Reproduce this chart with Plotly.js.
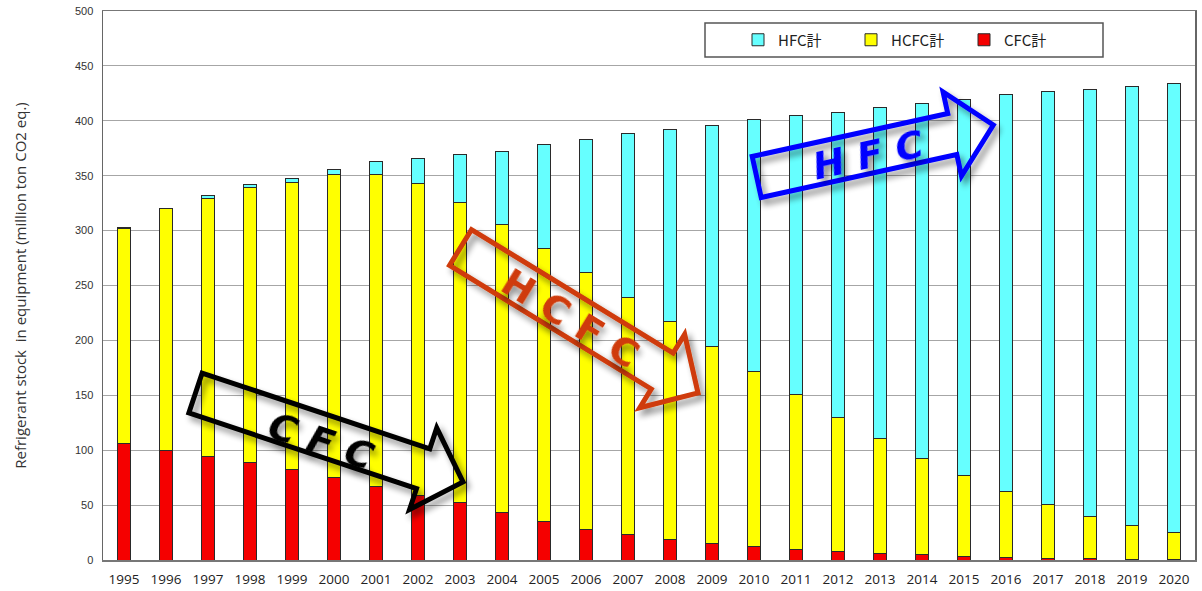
<!DOCTYPE html>
<html>
<head>
<meta charset="utf-8">
<script src="https://cdn.plot.ly/plotly-3.0.1.min.js"></script>
<style>
  html, body { margin: 0; padding: 0; background: #fff; }
  #chart { width: 1202px; height: 591px; }
</style>
</head>
<body>
<div id="chart"></div>
<script>
// Refrigerant stock held in equipment, million t CO2 eq., by refrigerant family
const years = ['1995','1996','1997','1998','1999','2000','2001','2002','2003','2004','2005','2006','2007',
               '2008','2009','2010','2011','2012','2013','2014','2015','2016','2017','2018','2019','2020'];
const cfcTotal  = [106, 100, 94, 89, 82, 75, 67, 59, 52, 43.5, 35, 28, 23, 19, 15, 12, 10, 8, 6, 5, 3.5, 2.7, 1.5, 1.2, 0.8, 0.5];
const hcfcTotal = [196, 220, 235.5, 250, 262, 276, 284.5, 284, 274, 262, 249, 234, 216, 198, 179, 160, 140.5, 122, 105, 87.5, 73.5, 60, 49, 38, 30.5, 24.5];
const hfcTotal  = [1, 0.3, 2.5, 2.8, 3.7, 5, 11.5, 23, 43, 66.5, 94, 121, 149.5, 175.5, 202, 229, 254.5, 278, 301, 323, 342, 361, 376, 389, 400, 409];
const seriesNames = ['CFC計', 'HCFC計', 'HFC計'];

const W = 1202, H = 591;
const M = { l: 103, r: 7, t: 11, b: 31 };
const PW = W - M.l - M.r, PH = H - M.t - M.b;
const px = X => (X - M.l) / PW;
const py = Y => (H - M.b - Y) / PH;

// Trend arrows drawn over the bars (screen pixels: tail centre, tip)
const arrows = [
  { tail: [195.5, 393], tip: [463, 482], color: '#000000', label: 'C\u00a0F\u00a0C', at: [321, 441], italic: true },
  { tail: [460.5, 247.5], tip: [698, 393], color: '#cf3a08', label: 'H\u00a0C\u00a0F\u00a0C', at: [570, 318], italic: false },
  { tail: [756.7, 177], tip: [993.3, 125], color: '#0000ff', label: 'H\u00a0F\u00a0C', at: [868, 155], italic: true }
];
const BODY = 42, HEAD_W = 86, HEAD_L = 42;

function arrowPath(a) {
  const [sx, sy] = a.tail, [tx, ty] = a.tip;
  const len = Math.hypot(tx - sx, ty - sy);
  const dx = (tx - sx) / len, dy = (ty - sy) / len;
  const nx = -dy, ny = dx;
  const bx = tx - dx * HEAD_L, by = ty - dy * HEAD_L;
  const pts = [
    [sx + nx * BODY / 2, sy + ny * BODY / 2],
    [bx + nx * BODY / 2, by + ny * BODY / 2],
    [bx + nx * HEAD_W / 2, by + ny * HEAD_W / 2],
    [tx, ty],
    [bx - nx * HEAD_W / 2, by - ny * HEAD_W / 2],
    [bx - nx * BODY / 2, by - ny * BODY / 2],
    [sx - nx * BODY / 2, sy - ny * BODY / 2]
  ];
  return 'M' + pts.map(p => px(p[0]).toFixed(5) + ',' + py(p[1]).toFixed(5)).join('L') + 'Z';
}
function arrowAngle(a) {
  return Math.atan2(a.tip[1] - a.tail[1], a.tip[0] - a.tail[0]) * 180 / Math.PI;
}

const barLine = { color: '#2a2a2a', width: 1 };
const traces = [
  { type: 'bar', name: seriesNames[0], x: years, y: cfcTotal,  marker: { color: '#f50000', line: barLine } },
  { type: 'bar', name: seriesNames[1], x: years, y: hcfcTotal, marker: { color: '#ffff00', line: barLine } },
  { type: 'bar', name: seriesNames[2], x: years, y: hfcTotal,  marker: { color: '#66ffff', line: barLine } }
];

const shapes = [
  // legend frame
  { type: 'rect', xref: 'paper', yref: 'paper', x0: px(705), x1: px(1103), y0: py(57), y1: py(23),
    line: { color: '#555', width: 1.5 }, fillcolor: '#ffffff', layer: 'above' }
].concat(arrows.map(a => ({
  type: 'path', xref: 'paper', yref: 'paper', path: arrowPath(a),
  line: { color: a.color, width: 5 }, fillcolor: 'rgba(0,0,0,0)', layer: 'above'
})));

const annotations = arrows.map(a => ({
  xref: 'paper', yref: 'paper', x: px(a.at[0]), y: py(a.at[1]),
  xanchor: 'center', yanchor: 'middle', showarrow: false,
  text: a.label, textangle: arrowAngle(a),
  font: { family: 'DejaVu Sans, sans-serif', size: 38, color: a.color,
          weight: 'bold', style: a.italic ? 'italic' : 'normal' }
}));

const layout = {
  width: W, height: H,
  margin: M,
  paper_bgcolor: '#ffffff', plot_bgcolor: '#ffffff',
  barmode: 'stack', bargap: 0.67,
  showlegend: true,
  legend: {
    orientation: 'h', traceorder: 'reversed',
    x: px(738), y: py(40), xanchor: 'left', yanchor: 'middle',
    entrywidth: 68, entrywidthmode: 'pixels',
    bgcolor: 'rgba(0,0,0,0)', borderwidth: 0,
    font: { family: 'Noto Sans CJK JP, sans-serif', size: 15, color: '#222' }
  },
  xaxis: {
    type: 'category', showgrid: false, ticks: '',
    showline: true, linecolor: '#777', linewidth: 1.5, mirror: true,
    ticklabelstandoff: 6,
    tickfont: { family: 'Open Sans, sans-serif', size: 13.5, color: '#222' },
    fixedrange: true
  },
  yaxis: {
    range: [0, 500], dtick: 50, tick0: 0,
    showgrid: true, gridcolor: '#a6a6a6', gridwidth: 1,
    showline: true, linecolor: '#666', linewidth: 1.5, mirror: true,
    ticks: '', ticklabelstandoff: 6,
    tickfont: { family: 'Liberation Sans, Arial, sans-serif', size: 11, color: '#333' },
    title: { text: 'Refrigerant stock\u00a0 in equipment (million ton CO2 eq.)', standoff: 44,
             font: { family: 'Open Sans, sans-serif', size: 15, color: '#333' } },
    zeroline: false, fixedrange: true
  },
  shapes: shapes,
  annotations: annotations
};

Plotly.newPlot('chart', traces, layout, { displayModeBar: false, staticPlot: true }).then(gd => {
  // soft drop shadow under the trend arrows and their labels
  const svg = gd.querySelector('svg.main-svg');
  const NS = 'http://www.w3.org/2000/svg';
  let defs = svg.querySelector('defs');
  if (!defs) { defs = document.createElementNS(NS, 'defs'); svg.insertBefore(defs, svg.firstChild); }
  const f = document.createElementNS(NS, 'filter');
  f.setAttribute('id', 'arrowShadow');
  f.setAttribute('x', '-20%'); f.setAttribute('y', '-20%');
  f.setAttribute('width', '140%'); f.setAttribute('height', '140%');
  f.innerHTML =
    '<feGaussianBlur in="SourceAlpha" stdDeviation="3"/>' +
    '<feOffset dx="4" dy="5" result="ob"/>' +
    '<feComponentTransfer><feFuncA type="linear" slope="0.45"/></feComponentTransfer>' +
    '<feMerge><feMergeNode/><feMergeNode in="SourceGraphic"/></feMerge>';
  defs.appendChild(f);
  const shapePaths = gd.querySelectorAll('.layer-above .shapelayer path');
  shapePaths.forEach((p, i) => { if (i > 0) p.setAttribute('filter', 'url(#arrowShadow)'); });
  gd.querySelectorAll('.annotation-text-g').forEach(g => g.setAttribute('filter', 'url(#arrowShadow)'));
});
</script>
</body>
</html>
